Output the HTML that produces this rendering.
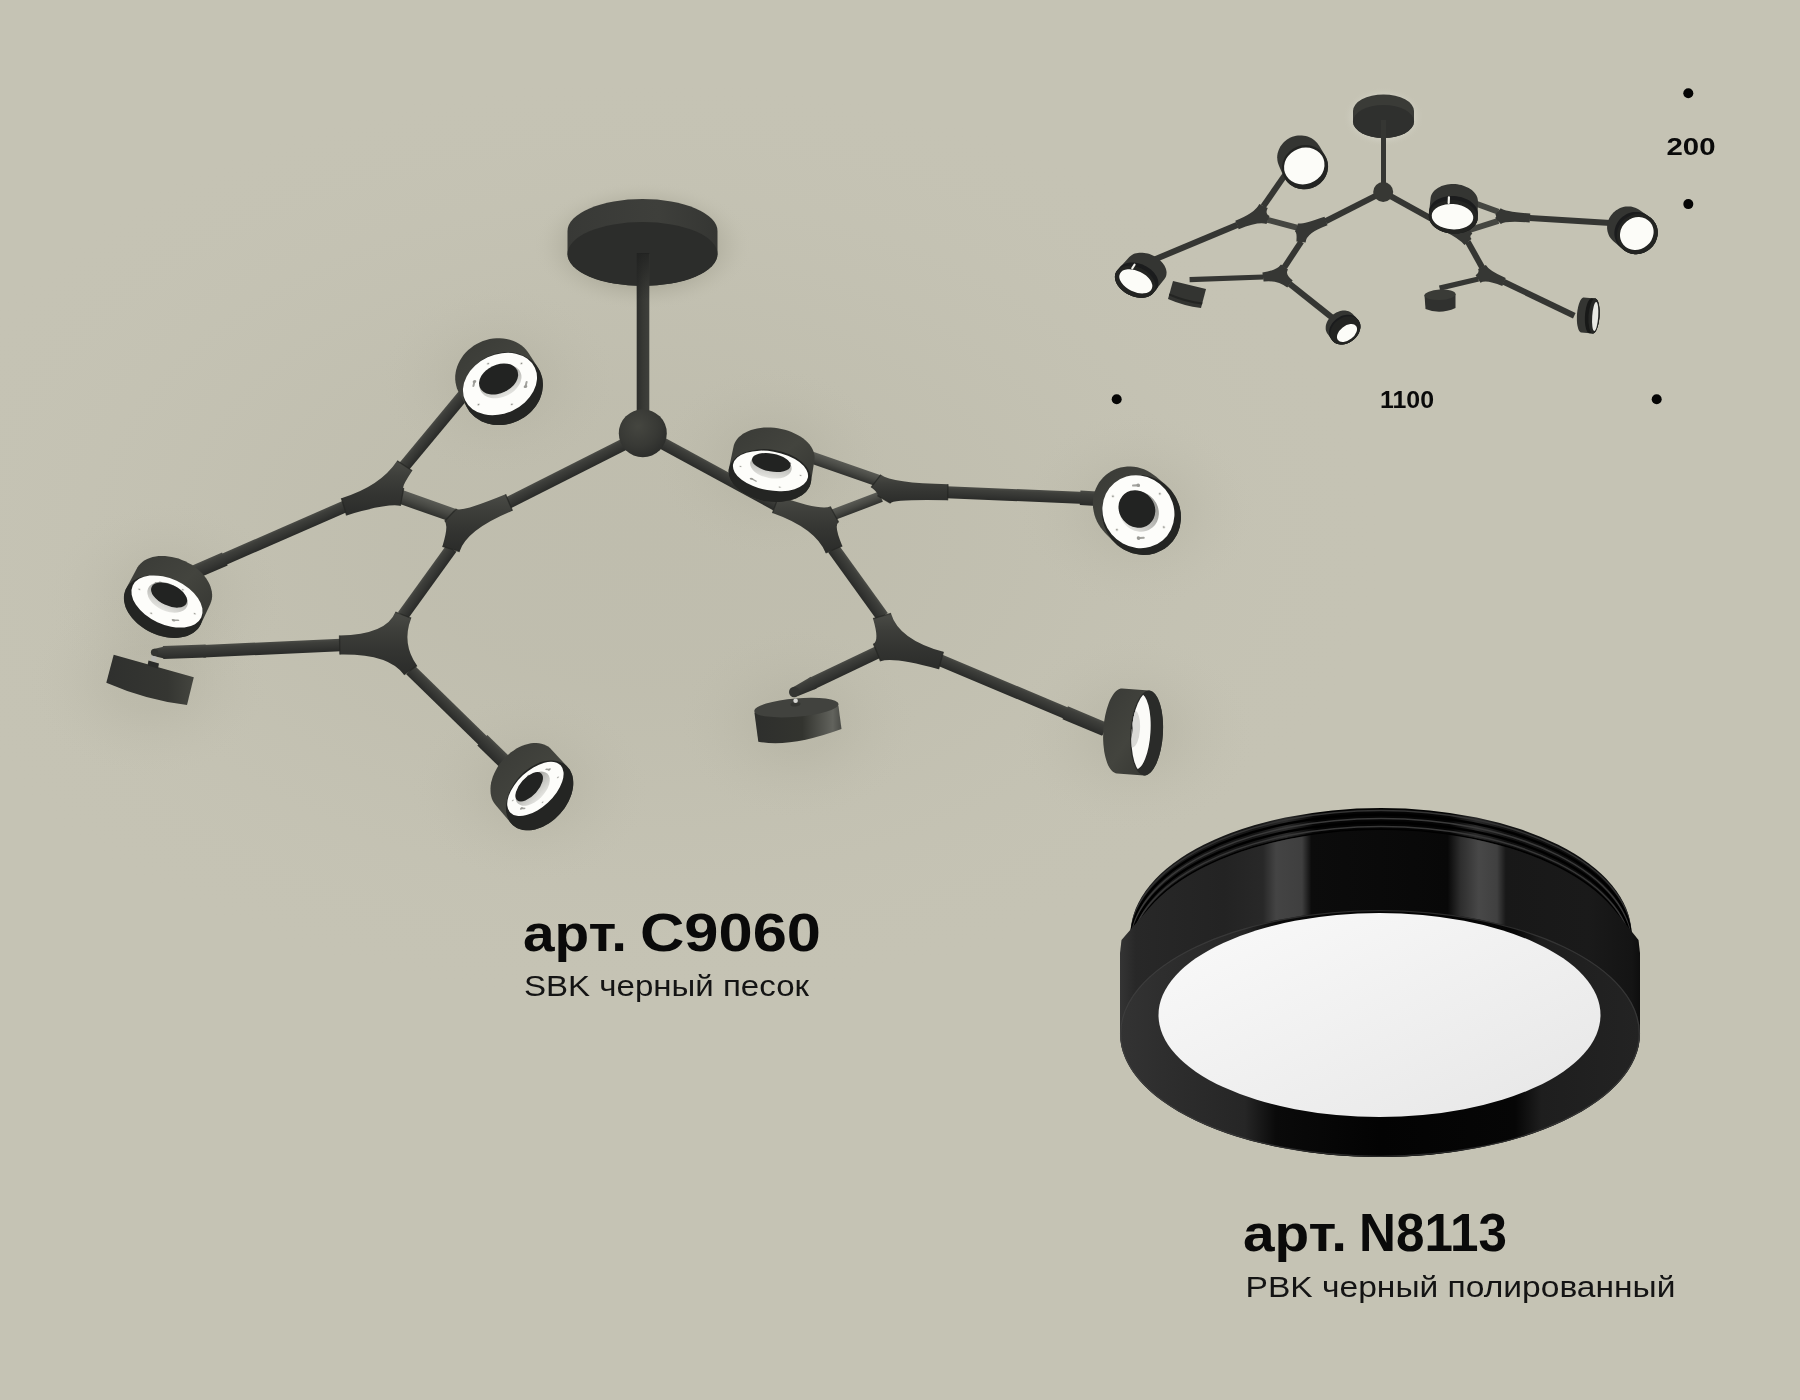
<!DOCTYPE html>
<html lang="ru"><head><meta charset="utf-8"><title>C9060 / N8113</title>
<style>html,body{margin:0;padding:0;background:#c5c3b4;}body{width:1800px;height:1400px;overflow:hidden;font-family:"Liberation Sans",sans-serif;}svg{display:block;will-change:transform}</style>
</head><body><svg width="1800" height="1400" viewBox="0 0 1800 1400"><defs>
<linearGradient id="gArm" x1="0" y1="0" x2="0" y2="1"><stop offset="0" stop-color="#4b4c47"/><stop offset=".22" stop-color="#3e3f3b"/><stop offset=".55" stop-color="#363734"/><stop offset="1" stop-color="#2a2b29"/></linearGradient>
<linearGradient id="gArmL" x1="0" y1="0" x2="0" y2="1"><stop offset="0" stop-color="#5a5b55"/><stop offset=".5" stop-color="#484944"/><stop offset="1" stop-color="#30312e"/></linearGradient>
<linearGradient id="gJ" x1="0" y1="0" x2="0" y2="1"><stop offset="0" stop-color="#4a4b46"/><stop offset=".3" stop-color="#3d3e3a"/><stop offset=".6" stop-color="#343532"/><stop offset="1" stop-color="#2b2c2a"/></linearGradient>
<linearGradient id="gSide" x1="0" y1="0" x2="1" y2="1"><stop offset="0" stop-color="#393a36"/><stop offset=".5" stop-color="#43443e"/><stop offset="1" stop-color="#32332f"/></linearGradient>
<linearGradient id="gRec" x1="0" y1="0" x2="0" y2="1"><stop offset="0" stop-color="#9a9a96"/><stop offset="1" stop-color="#e4e4e0"/></linearGradient>
<radialGradient id="gBall" cx=".4" cy=".35" r=".7"><stop offset="0" stop-color="#454640"/><stop offset=".6" stop-color="#383935"/><stop offset="1" stop-color="#2b2c2a"/></radialGradient>
<linearGradient id="gStem" x1="0" y1="0" x2="1" y2="0"><stop offset="0" stop-color="#2c2d2b"/><stop offset=".5" stop-color="#383935"/><stop offset="1" stop-color="#3f403c"/></linearGradient>
<linearGradient id="gCanSide" x1="0" y1="0" x2="1" y2="0"><stop offset="0" stop-color="#383936"/><stop offset=".6" stop-color="#3e3f3b"/><stop offset="1" stop-color="#353633"/></linearGradient>
<linearGradient id="gCyl" x1="0" y1="0" x2="1" y2="0"><stop offset="0" stop-color="#2e2f2d"/><stop offset=".55" stop-color="#33342f"/><stop offset=".9" stop-color="#62635d"/><stop offset="1" stop-color="#4a4b46"/></linearGradient>
<linearGradient id="gCyl3" x1="0" y1="0" x2="1" y2="0"><stop offset="0" stop-color="#2f302e"/><stop offset=".7" stop-color="#353632"/><stop offset="1" stop-color="#44453f"/></linearGradient>
<radialGradient id="gAmb" cx=".5" cy=".5" r=".5"><stop offset="0" stop-color="#b9b7a7" stop-opacity=".5"/><stop offset=".3" stop-color="#b9b7a7" stop-opacity=".44"/><stop offset=".5" stop-color="#bab8a8" stop-opacity=".3"/><stop offset=".7" stop-color="#bcbaaa" stop-opacity=".14"/><stop offset=".85" stop-color="#c0beae" stop-opacity=".05"/><stop offset="1" stop-color="#c5c3b4" stop-opacity="0"/></radialGradient><radialGradient id="gHalo" cx=".5" cy=".5" r=".5"><stop offset="0" stop-color="#a8a696" stop-opacity=".32"/><stop offset=".3" stop-color="#a8a696" stop-opacity=".26"/><stop offset=".55" stop-color="#acaa9a" stop-opacity=".13"/><stop offset=".8" stop-color="#b4b2a2" stop-opacity=".04"/><stop offset="1" stop-color="#c5c3b4" stop-opacity="0"/></radialGradient><radialGradient id="gCanSh" cx=".5" cy=".5" r=".5"><stop offset="0" stop-color="#a9a797" stop-opacity=".9"/><stop offset=".62" stop-color="#aba999" stop-opacity=".75"/><stop offset=".8" stop-color="#b4b2a2" stop-opacity=".35"/><stop offset=".92" stop-color="#bdbbab" stop-opacity=".1"/><stop offset="1" stop-color="#c5c3b4" stop-opacity="0"/></radialGradient><linearGradient id="gStemSh" x1="0" y1="0" x2="0" y2="1"><stop offset="0" stop-color="#1f201f" stop-opacity=".8"/><stop offset="1" stop-color="#1f201f" stop-opacity="0"/></linearGradient><radialGradient id="gGlow" cx=".5" cy=".5" r=".5"><stop offset="0" stop-color="#d2d1c4" stop-opacity=".9"/><stop offset=".75" stop-color="#d0cfc2" stop-opacity=".7"/><stop offset="1" stop-color="#c5c3b4" stop-opacity="0"/></radialGradient>
<linearGradient id="gBand" gradientUnits="userSpaceOnUse" x1="1120" y1="0" x2="1640" y2="0">
<stop offset="0" stop-color="#343434"/><stop offset=".03" stop-color="#282828"/><stop offset=".2" stop-color="#232323"/><stop offset=".275" stop-color="#282828"/>
<stop offset=".3" stop-color="#444"/><stop offset=".35" stop-color="#3f3f3f"/><stop offset=".368" stop-color="#0c0c0c"/>
<stop offset=".63" stop-color="#080808"/><stop offset=".655" stop-color="#2e2e2e"/><stop offset=".69" stop-color="#484848"/><stop offset=".725" stop-color="#404040"/><stop offset=".742" stop-color="#181818"/>
<stop offset=".9" stop-color="#1a1a1a"/><stop offset=".985" stop-color="#141414"/><stop offset="1" stop-color="#0e0e0e"/></linearGradient>
<linearGradient id="gRimN" gradientUnits="userSpaceOnUse" x1="1120" y1="0" x2="1640" y2="0">
<stop offset="0" stop-color="#333"/><stop offset=".1" stop-color="#2d2d2d"/><stop offset=".24" stop-color="#262626"/><stop offset=".3" stop-color="#0a0a0a"/><stop offset=".5" stop-color="#030303"/><stop offset=".76" stop-color="#060606"/><stop offset=".81" stop-color="#1e1e1e"/><stop offset="1" stop-color="#232323"/></linearGradient>
<linearGradient id="gThr" gradientUnits="userSpaceOnUse" x1="1131" y1="0" x2="1631" y2="0">
<stop offset="0" stop-color="#1c1c1c"/><stop offset=".25" stop-color="#161616"/><stop offset=".31" stop-color="#2a2a2a"/><stop offset=".37" stop-color="#050505"/><stop offset=".64" stop-color="#050505"/><stop offset=".69" stop-color="#2a2a2a"/><stop offset=".75" stop-color="#121212"/><stop offset="1" stop-color="#0b0b0b"/></linearGradient>
<linearGradient id="gDiff" x1="0" y1="0" x2="1" y2="1"><stop offset="0" stop-color="#fafafa"/><stop offset="1" stop-color="#e6e6e6"/></linearGradient>
</defs><rect width="1800" height="1400" fill="#c5c3b4"/>
<ellipse cx="640" cy="540" rx="760" ry="470" fill="url(#gAmb)"/>
<ellipse cx="499" cy="381" rx="125" ry="102" fill="url(#gHalo)"/>
<ellipse cx="168" cy="597" rx="125" ry="102" fill="url(#gHalo)"/>
<ellipse cx="150" cy="680" rx="125" ry="102" fill="url(#gHalo)"/>
<ellipse cx="531" cy="787" rx="125" ry="102" fill="url(#gHalo)"/>
<ellipse cx="771" cy="462" rx="125" ry="102" fill="url(#gHalo)"/>
<ellipse cx="1137" cy="510" rx="125" ry="102" fill="url(#gHalo)"/>
<ellipse cx="797" cy="722" rx="125" ry="102" fill="url(#gHalo)"/>
<ellipse cx="1133" cy="732" rx="125" ry="102" fill="url(#gHalo)"/>
<ellipse cx="642.5" cy="246" rx="112" ry="66" fill="url(#gCanSh)"/>
<path d="M567.5 231 A75 32 0 0 1 717.5 231 L717.5 254 A75 32 0 0 1 567.5 254Z" fill="url(#gCanSide)"/>
<ellipse cx="642.5" cy="254" rx="75" ry="32" fill="#2c2d2b"/>
<rect x="636.7" y="254" width="12.6" height="170" fill="url(#gStem)"/>
<rect x="636.7" y="253" width="12.6" height="48" fill="url(#gStemSh)"/>
<g transform="translate(508.2 502.9) rotate(-26.8)"><rect x="0" y="-6" width="148.6" height="12" fill="url(#gArm)"/></g>
<g transform="translate(400.2 496.7) rotate(19.4)"><rect x="0" y="-7" width="55.9" height="14" fill="url(#gArmL)"/></g>
<g transform="translate(404.1 466.5) rotate(-50.3)"><rect x="0" y="-6" width="97.7" height="12" fill="url(#gArm)"/></g>
<g transform="translate(192.2 573.2) rotate(-23.6)"><rect x="0" y="-6" width="166.6" height="12" fill="url(#gArm)"/></g>
<g transform="translate(192.2 573.2) rotate(-23.5)"><rect x="0" y="-7" width="35.6" height="14" fill="url(#gArm)"/></g>
<g transform="translate(402.8 615.8) rotate(-54.2)"><rect x="0" y="-6" width="83.3" height="12" fill="url(#gArm)"/></g>
<g transform="translate(203.1 651.2) rotate(-2.6)"><rect x="0" y="-6.2" width="137.6" height="12.5" fill="url(#gArm)"/></g>
<g transform="translate(163.1 652.6) rotate(-2)"><rect x="0" y="-6.5" width="42.8" height="13" fill="url(#gArm)"/></g>
<g transform="translate(153.6 652.4) rotate(1.1)"><path d="M0 -3.5 L10.8 -6 L10.8 6 L0 3.5Z" fill="url(#gArm)"/></g>
<circle cx="154.5" cy="652.4" r="3.6" fill="#343532"/>
<g transform="translate(410.4 669.9) rotate(44.3)"><rect x="0" y="-6" width="136.7" height="12" fill="url(#gArm)"/></g>
<g transform="translate(482.4 740.2) rotate(44.3)"><rect x="0" y="-7.2" width="36" height="14.5" fill="url(#gArm)"/></g>
<g transform="translate(641.7 432.1) rotate(28.5)"><rect x="0" y="-6" width="153.1" height="12" fill="url(#gArm)"/></g>
<g transform="translate(833.6 514.7) rotate(-20.9)"><rect x="0" y="-5.5" width="50.6" height="11" fill="url(#gArmL)"/></g>
<g transform="translate(809.1 456.7) rotate(19.1)"><rect x="0" y="-6" width="73.7" height="12" fill="url(#gArmL)"/></g>
<g transform="translate(946.9 492.2) rotate(2.4)"><rect x="0" y="-6" width="150.1" height="12" fill="url(#gArm)"/></g>
<g transform="translate(1080.1 497.8) rotate(2.7)"><rect x="0" y="-7.2" width="16.8" height="14.5" fill="url(#gArm)"/></g>
<g transform="translate(833.5 548.8) rotate(54.2)"><rect x="0" y="-6.5" width="83.8" height="13" fill="url(#gArm)"/></g>
<g transform="translate(811.2 683.8) rotate(-25.4)"><rect x="0" y="-6.2" width="73.8" height="12.4" fill="url(#gArm)"/></g>
<g transform="translate(795.2 691.7) rotate(-26)"><path d="M0 -5 L20.7 -6.5 L20.7 6.5 L0 5Z" fill="url(#gArm)"/></g>
<circle cx="794.2" cy="692" r="5.2" fill="#343532"/>
<g transform="translate(940.2 660.2) rotate(22.8)"><rect x="0" y="-6" width="178.6" height="12" fill="url(#gArm)"/></g>
<g transform="translate(1065.2 712.7) rotate(22.8)"><rect x="0" y="-7" width="43" height="14" fill="url(#gArm)"/></g>
<path d="M444.7 521.2 L456.3 508.8 Q460.4 512.7 505.6 494.2 L512.4 510.8 Q466.4 529.7 459.6 551.6 L442.4 546.4 Q448.9 525.2 444.7 521.2 Z" fill="url(#gJ)"/>
<path d="M444.7 521.2 L456.3 508.8" stroke="#242523" stroke-width="1.3" opacity=".75" fill="none"/>
<path d="M505.6 494.2 L512.4 510.8" stroke="#242523" stroke-width="1.3" opacity=".75" fill="none"/>
<path d="M459.6 551.6 L442.4 546.4" stroke="#242523" stroke-width="1.3" opacity=".75" fill="none"/>
<path d="M397.2 460.8 L412.2 470.8 Q401 487.7 403.7 488.2 L400.3 505.8 Q386.5 503.3 346.6 515.4 L341.4 498.2 Q380.3 486.3 397.2 460.8 Z" fill="url(#gJ)"/>
<path d="M397.2 460.8 L412.2 470.8" stroke="#242523" stroke-width="1.3" opacity=".75" fill="none"/>
<path d="M403.7 488.2 L400.3 505.8" stroke="#242523" stroke-width="1.3" opacity=".75" fill="none"/>
<path d="M346.6 515.4 L341.4 498.2" stroke="#242523" stroke-width="1.3" opacity=".75" fill="none"/>
<path d="M395.4 612 L411.2 618.2 Q401.4 643.4 417 665.6 L404 674.8 Q389 653.6 339.9 654.5 L339.5 635.5 Q386.5 634.6 395.4 612 Z" fill="url(#gJ)"/>
<path d="M395.4 612 L411.2 618.2" stroke="#242523" stroke-width="1.3" opacity=".75" fill="none"/>
<path d="M417 665.6 L404 674.8" stroke="#242523" stroke-width="1.3" opacity=".75" fill="none"/>
<path d="M339.9 654.5 L339.5 635.5" stroke="#242523" stroke-width="1.3" opacity=".75" fill="none"/>
<path d="M772.5 513.1 L778.5 496.1 Q821.3 511.2 830.2 506.5 L838.6 522.3 Q833.5 525.1 842.3 546 L825.7 553 Q815.3 528.2 772.5 513.1 Z" fill="url(#gJ)"/>
<path d="M772.5 513.1 L778.5 496.1" stroke="#242523" stroke-width="1.3" opacity=".75" fill="none"/>
<path d="M830.2 506.5 L838.6 522.3" stroke="#242523" stroke-width="1.3" opacity=".75" fill="none"/>
<path d="M842.3 546 L825.7 553" stroke="#242523" stroke-width="1.3" opacity=".75" fill="none"/>
<path d="M871.1 487.3 L880.9 474.7 Q891.8 483.1 948 484.2 L947.6 500.2 Q892.9 499.1 890.5 503.3 L877.5 495.7 Q878.9 493.3 871.1 487.3 Z" fill="url(#gJ)"/>
<path d="M871.1 487.3 L880.9 474.7" stroke="#242523" stroke-width="1.3" opacity=".75" fill="none"/>
<path d="M948 484.2 L947.6 500.2" stroke="#242523" stroke-width="1.3" opacity=".75" fill="none"/>
<path d="M890.5 503.3 L877.5 495.7" stroke="#242523" stroke-width="1.3" opacity=".75" fill="none"/>
<path d="M873 618.6 L891 613.4 Q898.7 639.5 943.4 651.8 L938.6 669.2 Q892.4 656.4 880.6 661.3 L873.4 643.7 Q879.6 641.1 873 618.6 Z" fill="url(#gJ)"/>
<path d="M873 618.6 L891 613.4" stroke="#242523" stroke-width="1.3" opacity=".75" fill="none"/>
<path d="M943.4 651.8 L938.6 669.2" stroke="#242523" stroke-width="1.3" opacity=".75" fill="none"/>
<path d="M880.6 661.3 L873.4 643.7" stroke="#242523" stroke-width="1.3" opacity=".75" fill="none"/>
<circle cx="642.8" cy="433.3" r="24" fill="url(#gBall)"/>
<path d="M455.2 379.2 L455.2 376.1 L455.6 373 L456.2 369.8 L457.1 366.7 L458.3 363.7 L459.8 360.7 L461.5 357.9 L463.5 355.1 L465.7 352.6 L468.2 350.1 L470.8 347.9 L473.6 345.8 L476.6 344 L479.7 342.4 L482.9 341.1 L486.3 339.9 L489.6 339.1 L493.1 338.5 L496.5 338.2 L499.9 338.2 L503.3 338.4 L506.6 338.9 L509.8 339.7 L512.9 340.7 L515.9 342 L518.6 343.6 L521.3 345.3 L523.7 347.3 L525.9 349.5 L527.8 351.9 L529.5 354.4 L538.5 368.6 L540 371.4 L541.1 374.2 L542 377.2 L542.6 380.3 L542.9 383.4 L542.9 386.6 L542.5 389.8 L541.9 392.9 L541 396.1 L539.8 399.2 L538.3 402.2 L536.5 405.1 L534.5 407.8 L532.2 410.5 L529.8 412.9 L527.1 415.2 L524.2 417.3 L521.2 419.1 L518 420.8 L514.7 422.1 L511.4 423.3 L507.9 424.1 L504.4 424.7 L501 425.1 L497.5 425.1 L494.1 424.9 L490.7 424.3 L487.5 423.5 L484.3 422.5 L481.3 421.2 L478.5 419.6 L475.8 417.8 L473.4 415.8 L471.2 413.6 L469.2 411.2 L467.5 408.6 L459.5 393.8 L458.1 391.1 L456.9 388.3 L456.1 385.3 L455.5 382.3Z" fill="url(#gSide)"/>
<ellipse cx="503" cy="388.6" rx="40.8" ry="35.5" transform="rotate(-25 503 388.6)" fill="#242523" />
<ellipse cx="500" cy="384" rx="38.5" ry="29.4" transform="rotate(-25 500 384)" fill="#fdfdfa" />
<g transform="translate(500 384) rotate(-25) scale(38.5 29.4)"><g transform="translate(0.617 0.371) rotate(121)"><rect x="-.09" y="-.028" width=".16" height=".056" rx=".028" fill="#a3a39e"/><circle cx=".085" cy="0" r=".05" fill="#9a9a95"/></g><g transform="translate(-0.617 -0.371) rotate(301)"><rect x="-.09" y="-.028" width=".16" height=".056" rx=".028" fill="#a3a39e"/><circle cx=".085" cy="0" r=".05" fill="#9a9a95"/></g><circle cx="0.056" cy="0.798" r=".045" fill="#e6e6e1"/><circle cx="0.056" cy="0.798" r=".02" fill="#8b8b86"/><circle cx="-0.731" cy="0.325" r=".045" fill="#e6e6e1"/><circle cx="-0.731" cy="0.325" r=".02" fill="#8b8b86"/><circle cx="-0.056" cy="-0.798" r=".045" fill="#e6e6e1"/><circle cx="-0.056" cy="-0.798" r=".02" fill="#8b8b86"/><circle cx="0.731" cy="-0.325" r=".045" fill="#e6e6e1"/><circle cx="0.731" cy="-0.325" r=".02" fill="#8b8b86"/></g>
<ellipse cx="500.5" cy="381.5" rx="22" ry="15.5" transform="rotate(-25 500.5 381.5)" fill="url(#gRec)" />
<ellipse cx="498.6" cy="379" rx="20.5" ry="14.2" transform="rotate(-25 498.6 379)" fill="#222322" />
<path d="M123.9 599.1 L123.9 596.5 L124.3 594 L124.9 591.5 L125.8 589.2 L136.3 569.5 L137.5 567.3 L139 565.3 L140.7 563.5 L142.6 561.8 L144.8 560.3 L147.2 559 L149.8 558 L152.6 557.1 L155.6 556.5 L158.6 556.1 L161.8 556 L165.1 556 L168.4 556.4 L171.8 556.9 L175.2 557.7 L178.6 558.6 L181.9 559.9 L185.2 561.3 L188.3 562.9 L191.4 564.6 L194.3 566.6 L197.1 568.7 L199.7 570.9 L202.1 573.3 L204.2 575.7 L206.1 578.3 L207.8 580.9 L209.2 583.5 L210.4 586.2 L211.2 588.9 L211.8 591.6 L212.1 594.2 L212.1 596.8 L211.8 599.2 L211.2 601.6 L210.3 603.9 L200.8 624.2 L199.6 626.4 L198.2 628.4 L196.4 630.3 L194.4 632 L192.2 633.5 L189.8 634.8 L187.1 635.9 L184.3 636.7 L181.3 637.3 L178.2 637.7 L174.9 637.9 L171.6 637.8 L168.2 637.5 L164.8 637 L161.4 636.2 L157.9 635.2 L154.6 634 L151.3 632.5 L148 630.9 L144.9 629.1 L141.9 627.1 L139.2 625 L136.5 622.7 L134.1 620.3 L131.9 617.8 L130 615.2 L128.2 612.6 L126.8 609.9 L125.7 607.2 L124.8 604.5 L124.2 601.8Z" fill="url(#gSide)"/>
<ellipse cx="163.3" cy="606.7" rx="41.4" ry="28.5" transform="rotate(25 163.3 606.7)" fill="#242523" />
<ellipse cx="167" cy="601.5" rx="37.8" ry="22.8" transform="rotate(25 167 601.5)" fill="#fdfdfa" />
<g transform="translate(167 601.5) rotate(25) scale(37.8 22.8)"><g transform="translate(0.433 0.575) rotate(143)"><rect x="-.09" y="-.028" width=".16" height=".056" rx=".028" fill="#a3a39e"/><circle cx=".085" cy="0" r=".05" fill="#9a9a95"/></g><g transform="translate(-0.433 -0.575) rotate(323)"><rect x="-.09" y="-.028" width=".16" height=".056" rx=".028" fill="#a3a39e"/><circle cx=".085" cy="0" r=".05" fill="#9a9a95"/></g><circle cx="-0.247" cy="0.761" r=".045" fill="#e6e6e1"/><circle cx="-0.247" cy="0.761" r=".02" fill="#8b8b86"/><circle cx="-0.800" cy="0.028" r=".045" fill="#e6e6e1"/><circle cx="-0.800" cy="0.028" r=".02" fill="#8b8b86"/><circle cx="0.247" cy="-0.761" r=".045" fill="#e6e6e1"/><circle cx="0.247" cy="-0.761" r=".02" fill="#8b8b86"/><circle cx="0.800" cy="-0.028" r=".045" fill="#e6e6e1"/><circle cx="0.800" cy="-0.028" r=".02" fill="#8b8b86"/></g>
<ellipse cx="167.6" cy="597.4" rx="21.5" ry="13.5" transform="rotate(25 167.6 597.4)" fill="url(#gRec)" />
<ellipse cx="169.1" cy="595.1" rx="19.3" ry="10.5" transform="rotate(25 169.1 595.1)" fill="#222322" />
<path d="M490.5 788.2 L490.7 785.3 L491.2 782.3 L492 779.4 L493 776.3 L494.2 773.4 L495.7 770.4 L497.3 767.5 L499.2 764.6 L501.2 761.9 L503.5 759.3 L505.8 756.8 L508.4 754.5 L511 752.3 L513.7 750.4 L516.5 748.6 L519.4 747.1 L522.2 745.8 L525.1 744.7 L528 743.9 L530.9 743.3 L533.6 743 L536.4 743 L539 743.2 L541.5 743.7 L543.9 744.4 L546.1 745.4 L548.1 746.6 L550 748.1 L551.6 749.8 L568 767.4 L569.5 769.3 L570.7 771.5 L571.7 773.8 L572.5 776.2 L573 778.9 L573.2 781.6 L573.2 784.5 L573 787.4 L572.5 790.4 L571.7 793.4 L570.7 796.5 L569.4 799.5 L568 802.5 L566.3 805.5 L564.4 808.4 L562.3 811.1 L560 813.8 L557.6 816.3 L555.1 818.7 L552.4 820.9 L549.6 822.9 L546.8 824.6 L543.9 826.2 L541 827.5 L538 828.6 L535.1 829.4 L532.2 830 L529.4 830.3 L526.6 830.3 L524 830.1 L521.4 829.6 L519 828.9 L516.8 827.9 L514.7 826.6 L512.8 825.1 L511.2 823.4 L495.6 805 L494.1 803.1 L492.9 801 L491.9 798.7 L491.2 796.3 L490.7 793.7 L490.5 791Z" fill="url(#gSide)"/>
<ellipse cx="539.6" cy="795.4" rx="40" ry="27.5" transform="rotate(-48 539.6 795.4)" fill="#242523" />
<ellipse cx="535.4" cy="788.9" rx="34.5" ry="18.5" transform="rotate(-43 535.4 788.9)" fill="#fdfdfa" />
<g transform="translate(535.4 788.9) rotate(-43) scale(34.5 18.5)"><g transform="translate(0.642 -0.327) rotate(63)"><rect x="-.09" y="-.028" width=".16" height=".056" rx=".028" fill="#a3a39e"/><circle cx=".085" cy="0" r=".05" fill="#9a9a95"/></g><g transform="translate(-0.642 0.327) rotate(243)"><rect x="-.09" y="-.028" width=".16" height=".056" rx=".028" fill="#a3a39e"/><circle cx=".085" cy="0" r=".05" fill="#9a9a95"/></g><circle cx="0.706" cy="0.376" r=".045" fill="#e6e6e1"/><circle cx="0.706" cy="0.376" r=".02" fill="#8b8b86"/><circle cx="-0.111" cy="0.792" r=".045" fill="#e6e6e1"/><circle cx="-0.111" cy="0.792" r=".02" fill="#8b8b86"/><circle cx="-0.706" cy="-0.376" r=".045" fill="#e6e6e1"/><circle cx="-0.706" cy="-0.376" r=".02" fill="#8b8b86"/><circle cx="0.111" cy="-0.792" r=".045" fill="#e6e6e1"/><circle cx="0.111" cy="-0.792" r=".02" fill="#8b8b86"/></g>
<ellipse cx="532.7" cy="788.7" rx="21" ry="12" transform="rotate(-45 532.7 788.7)" fill="url(#gRec)" />
<ellipse cx="529.2" cy="786.8" rx="18" ry="9" transform="rotate(-48 529.2 786.8)" fill="#222322" />
<path d="M728.6 471.4 L728.8 469.1 L733.4 447.2 L733.9 445 L734.7 442.9 L735.8 440.9 L737.2 438.9 L738.9 437.1 L740.9 435.4 L743 433.8 L745.5 432.4 L748.1 431.2 L751 430.1 L754 429.2 L757.1 428.5 L760.4 428 L763.8 427.6 L767.3 427.5 L770.8 427.6 L774.4 427.8 L777.9 428.3 L781.4 429 L784.9 429.8 L788.2 430.8 L791.5 432 L794.6 433.4 L797.6 434.9 L800.4 436.6 L803 438.3 L805.4 440.2 L807.5 442.2 L809.4 444.3 L811 446.5 L812.3 448.7 L813.3 451 L814 453.2 L814.5 455.5 L814.6 457.8 L814.4 460 L811 482.1 L810.5 484.3 L809.7 486.5 L808.5 488.5 L807.1 490.5 L805.4 492.4 L803.5 494.1 L801.2 495.7 L798.8 497.1 L796.1 498.4 L793.2 499.4 L790.1 500.4 L786.9 501.1 L783.6 501.6 L780.1 502 L776.6 502.1 L773 502 L769.4 501.8 L765.8 501.3 L762.3 500.6 L758.8 499.8 L755.3 498.7 L752 497.5 L748.9 496.1 L745.8 494.6 L743 492.9 L740.4 491.1 L738 489.2 L735.8 487.1 L733.9 485 L732.3 482.8 L730.9 480.6 L729.9 478.3 L729.2 476 L728.7 473.6Z" fill="url(#gSide)"/>
<ellipse cx="769.9" cy="475.6" rx="41.6" ry="26" transform="rotate(9 769.9 475.6)" fill="#242523" />
<ellipse cx="770.5" cy="470.9" rx="38" ry="19.5" transform="rotate(10 770.5 470.9)" fill="#fdfdfa" />
<g transform="translate(770.5 470.9) rotate(10) scale(38 19.5)"><g transform="translate(0.382 -0.611) rotate(32)"><rect x="-.09" y="-.028" width=".16" height=".056" rx=".028" fill="#a3a39e"/><circle cx=".085" cy="0" r=".05" fill="#9a9a95"/></g><g transform="translate(-0.382 0.611) rotate(212)"><rect x="-.09" y="-.028" width=".16" height=".056" rx=".028" fill="#a3a39e"/><circle cx=".085" cy="0" r=".05" fill="#9a9a95"/></g><circle cx="0.799" cy="-0.042" r=".045" fill="#e6e6e1"/><circle cx="0.799" cy="-0.042" r=".02" fill="#8b8b86"/><circle cx="0.313" cy="0.736" r=".045" fill="#e6e6e1"/><circle cx="0.313" cy="0.736" r=".02" fill="#8b8b86"/><circle cx="-0.799" cy="0.042" r=".045" fill="#e6e6e1"/><circle cx="-0.799" cy="0.042" r=".02" fill="#8b8b86"/><circle cx="-0.313" cy="-0.736" r=".045" fill="#e6e6e1"/><circle cx="-0.313" cy="-0.736" r=".02" fill="#8b8b86"/></g>
<ellipse cx="770.9" cy="466.2" rx="21" ry="12" transform="rotate(10 770.9 466.2)" fill="url(#gRec)" />
<ellipse cx="771.3" cy="462.5" rx="19.5" ry="9" transform="rotate(10 771.3 462.5)" fill="#222322" />
<path d="M1092.9 504.7 L1092.9 501.3 L1093.2 497.9 L1093.9 494.5 L1094.8 491.3 L1096 488.2 L1097.5 485.2 L1099.2 482.3 L1101.2 479.7 L1103.4 477.2 L1105.8 475 L1108.5 473 L1111.3 471.2 L1114.2 469.7 L1117.3 468.5 L1120.5 467.6 L1123.8 466.9 L1127.2 466.6 L1130.6 466.5 L1134 466.8 L1137.4 467.3 L1140.7 468.2 L1144 469.3 L1147.2 470.7 L1150.2 472.4 L1153.1 474.4 L1155.9 476.5 L1165.9 485.1 L1168.5 487.5 L1170.9 490.1 L1173.1 493 L1175 496 L1176.7 499.1 L1178.1 502.4 L1179.3 505.7 L1180.1 509.2 L1180.7 512.6 L1180.9 516.1 L1180.9 519.6 L1180.5 523 L1179.9 526.4 L1179 529.7 L1177.8 532.9 L1176.2 536 L1174.5 538.8 L1172.5 541.5 L1170.2 544 L1167.8 546.3 L1165.1 548.4 L1162.2 550.1 L1159.2 551.6 L1156.1 552.9 L1152.8 553.8 L1149.5 554.5 L1146.1 554.8 L1142.6 554.9 L1139.2 554.6 L1135.8 554 L1132.4 553.2 L1129 552 L1125.8 550.6 L1122.7 548.9 L1119.7 546.9 L1116.9 544.7 L1114.3 542.3 L1105.1 532.9 L1102.8 530.3 L1100.6 527.5 L1098.7 524.5 L1097 521.4 L1095.6 518.2 L1094.5 514.9 L1093.7 511.5 L1093.1 508.1Z" fill="url(#gSide)"/>
<ellipse cx="1141.4" cy="514.9" rx="41" ry="38.5" transform="rotate(50 1141.4 514.9)" fill="#242523" />
<ellipse cx="1138.4" cy="511.7" rx="37.5" ry="35" transform="rotate(50 1138.4 511.7)" fill="#fdfdfa" />
<g transform="translate(1138.4 511.7) rotate(50) scale(37.5 35)"><g transform="translate(0.590 0.413) rotate(125)"><rect x="-.09" y="-.028" width=".16" height=".056" rx=".028" fill="#a3a39e"/><circle cx=".085" cy="0" r=".05" fill="#9a9a95"/></g><g transform="translate(-0.590 -0.413) rotate(305)"><rect x="-.09" y="-.028" width=".16" height=".056" rx=".028" fill="#a3a39e"/><circle cx=".085" cy="0" r=".05" fill="#9a9a95"/></g><circle cx="0.000" cy="0.800" r=".045" fill="#e6e6e1"/><circle cx="0.000" cy="0.800" r=".02" fill="#8b8b86"/><circle cx="-0.752" cy="0.274" r=".045" fill="#e6e6e1"/><circle cx="-0.752" cy="0.274" r=".02" fill="#8b8b86"/><circle cx="-0.000" cy="-0.800" r=".045" fill="#e6e6e1"/><circle cx="-0.000" cy="-0.800" r=".02" fill="#8b8b86"/><circle cx="0.752" cy="-0.274" r=".045" fill="#e6e6e1"/><circle cx="0.752" cy="-0.274" r=".02" fill="#8b8b86"/></g>
<ellipse cx="1139" cy="511.5" rx="21" ry="19" transform="rotate(50 1139 511.5)" fill="url(#gRec)" />
<ellipse cx="1136.9" cy="509" rx="19.5" ry="17.6" transform="rotate(50 1136.9 509)" fill="#222322" />
<path d="M1103.1 737.4 L1103.2 733.7 L1103.3 730 L1103.6 726.3 L1104 722.6 L1104.6 719.1 L1105.2 715.6 L1106 712.2 L1106.8 708.9 L1107.8 705.9 L1108.8 703 L1109.9 700.3 L1111.1 697.9 L1112.4 695.7 L1113.7 693.8 L1115.1 692.1 L1116.5 690.8 L1117.9 689.8 L1119.3 689 L1120.8 688.6 L1122.2 688.6 L1149.2 690.6 L1150.6 690.8 L1152 691.4 L1153.3 692.3 L1154.6 693.5 L1155.8 695 L1157 696.8 L1158.1 698.8 L1159 701.1 L1159.9 703.7 L1160.7 706.5 L1161.4 709.5 L1162 712.6 L1162.4 716 L1162.8 719.4 L1163 723 L1163.1 726.6 L1163 730.3 L1162.9 734 L1162.6 737.7 L1162.2 741.4 L1161.6 744.9 L1161 748.4 L1160.2 751.8 L1159.4 755.1 L1158.4 758.1 L1157.4 761 L1156.3 763.7 L1155.1 766.1 L1153.8 768.3 L1152.5 770.2 L1151.1 771.9 L1149.7 773.2 L1148.3 774.2 L1146.9 775 L1145.4 775.4 L1144 775.4 L1117 773.4 L1115.6 773.2 L1114.2 772.6 L1112.9 771.7 L1111.6 770.5 L1110.4 769 L1109.2 767.2 L1108.1 765.2 L1107.2 762.9 L1106.3 760.3 L1105.5 757.5 L1104.8 754.5 L1104.2 751.4 L1103.8 748 L1103.4 744.6 L1103.2 741Z" fill="url(#gSide)"/>
<ellipse cx="1146.6" cy="733" rx="16.3" ry="42.5" transform="rotate(3.5 1146.6 733)" fill="#2a2b29" />
<clipPath id="cl8"><ellipse cx="1146.6" cy="733" rx="15" ry="41" transform="rotate(3.5 1146.6 733)" fill="#000" /></clipPath>
<g clip-path="url(#cl8)"><ellipse cx="1138" cy="731.5" rx="12.5" ry="38" transform="rotate(3.5 1138 731.5)" fill="#fbfbf8" /><ellipse cx="1133.5" cy="729" rx="6.5" ry="18.5" transform="rotate(3.5 1133.5 729)" fill="#d9d9d6" /><ellipse cx="1127.5" cy="730" rx="5" ry="15" transform="rotate(3.5 1127.5 730)" fill="#1f201f" /></g>
<path d="M113.7 654.8 L193.8 677.2 L187 705 Q146 700 106.3 682.7Z" fill="url(#gCyl3)"/>
<path d="M148.5 660.5 l10.5 3 l-1 5 l-10.5 -3z" fill="#2a2b29"/>
<path d="M152 655.5 l5 1.4 l-1.2 5 l-5 -1.4z" fill="#b9b9b4"/>
<path d="M754.4 712.6 L758.3 741.7 Q790 748 841.5 729.1 L838.4 705.6Z" fill="url(#gCyl)"/>
<ellipse cx="796.4" cy="707.6" rx="42.3" ry="9.2" transform="rotate(-4.8 796.4 707.6)" fill="#41423e" />
<ellipse cx="795.5" cy="704.3" rx="5" ry="2.2" transform="rotate(-5 795.5 704.3)" fill="#353632" />
<circle cx="795.6" cy="700.8" r="2.3" fill="#d8d8d4"/>
<ellipse cx="1383.5" cy="117" rx="41" ry="30" fill="url(#gGlow)"/>
<path d="M1353 111 A30.5 16.5 0 0 1 1414 111 L1414 121.5 A30.5 16.5 0 0 1 1353 121.5Z" fill="#3a3b37"/>
<ellipse cx="1383.5" cy="121.5" rx="30.5" ry="16.5" fill="#2f302e"/>
<rect x="1381" y="120" width="5" height="66" fill="#353633"/>
<g transform="translate(1325.6 221.2) rotate(-26.9)"><rect x="0" y="-3" width="64.9" height="6" fill="#353633"/></g>
<g transform="translate(1267.6 219.9) rotate(14.7)"><rect x="0" y="-2.9" width="30.3" height="5.8" fill="#454641"/></g>
<g transform="translate(1263.3 206.3) rotate(-55.3)"><rect x="0" y="-3" width="38.5" height="6" fill="#353633"/></g>
<g transform="translate(1154.6 259.5) rotate(-22.7)"><rect x="0" y="-3" width="89.7" height="6" fill="#353633"/></g>
<g transform="translate(1284.3 267.3) rotate(-56.6)"><rect x="0" y="-3" width="30.8" height="6" fill="#353633"/></g>
<g transform="translate(1189.6 279.6) rotate(-2)"><rect x="0" y="-2.6" width="73.8" height="5.2" fill="#353633"/></g>
<g transform="translate(1289.7 283.8) rotate(38.5)"><rect x="0" y="-3" width="57" height="6" fill="#353633"/></g>
<g transform="translate(1382.9 191.8) rotate(29.1)"><rect x="0" y="-3" width="73.8" height="6" fill="#353633"/></g>
<g transform="translate(1469.6 230.1) rotate(-17.8)"><rect x="0" y="-2.9" width="30.2" height="5.8" fill="#454641"/></g>
<g transform="translate(1475.6 203.4) rotate(20)"><rect x="0" y="-2.9" width="24.2" height="5.8" fill="#454641"/></g>
<g transform="translate(1529.6 218) rotate(3.6)"><rect x="0" y="-3" width="81" height="6" fill="#353633"/></g>
<g transform="translate(1467.8 241.7) rotate(60.8)"><rect x="0" y="-3" width="29.5" height="6" fill="#353633"/></g>
<g transform="translate(1439.6 288.1) rotate(-13.3)"><rect x="0" y="-2.6" width="39.9" height="5.2" fill="#353633"/></g>
<g transform="translate(1503.6 281.8) rotate(25.6)"><rect x="0" y="-3" width="78.4" height="6" fill="#353633"/></g>
<path d="M1295 231.6 L1298 223.4 Q1301.7 224.7 1324.5 216.7 L1327.5 225.3 Q1306.3 232.8 1305.6 242.4 L1296.4 241.6 Q1297.2 232.4 1295 231.6 Z" fill="#363734"/>
<path d="M1259.3 204 L1267.7 208 Q1264.7 214.1 1269.5 215.9 L1266.5 224.1 Q1258.8 221.3 1238.7 229.3 L1235.3 220.7 Q1255.1 212.9 1259.3 204 Z" fill="#363734"/>
<path d="M1281 264.4 L1288 269.6 Q1284.6 274.2 1292.7 280.5 L1287.3 287.5 Q1277.5 279.8 1263.6 281.6 L1262.4 272.4 Q1276.3 270.7 1281 264.4 Z" fill="#363734"/>
<path d="M1444.9 231.6 L1449.1 223.4 Q1462 229.8 1467.7 226.3 L1472.3 233.7 Q1468.8 235.9 1471.5 239 L1464.5 245 Q1459.1 238.7 1444.9 231.6 Z" fill="#363734"/>
<path d="M1495.3 214.8 L1500.7 208.2 Q1504.9 211.7 1530.3 213.6 L1529.7 222.4 Q1504.8 220.5 1500.8 224.1 L1495.2 217.9 Q1497.1 216.2 1495.3 214.8 Z" fill="#363734"/>
<path d="M1478.1 269 L1485.9 265 Q1488.7 270.6 1505.7 278 L1502.3 286 Q1485.9 279 1480.4 282.7 L1475.6 275.3 Q1479.8 272.5 1478.1 269 Z" fill="#363734"/>
<circle cx="1383.2" cy="192" r="10" fill="#373834"/>
<path d="M1277.2 157.3 L1277.3 155.4 L1277.6 153.5 L1278.1 151.7 L1278.7 149.9 L1279.5 148.2 L1280.4 146.5 L1281.5 144.9 L1282.7 143.4 L1284 142 L1285.5 140.7 L1287.1 139.5 L1288.7 138.5 L1290.5 137.6 L1292.3 136.8 L1294.2 136.2 L1296.1 135.8 L1298 135.5 L1300 135.4 L1301.9 135.5 L1303.8 135.7 L1305.8 136.1 L1307.6 136.6 L1309.4 137.3 L1311.1 138.1 L1312.7 139.1 L1314.3 140.2 L1315.7 141.4 L1317 142.8 L1318.1 144.3 L1319.2 145.8 L1325.2 155.8 L1326.1 157.5 L1326.8 159.3 L1327.4 161.1 L1327.8 163 L1328 164.9 L1328.1 166.8 L1327.9 168.8 L1327.6 170.7 L1327.2 172.6 L1326.5 174.4 L1325.7 176.2 L1324.8 177.9 L1323.7 179.6 L1322.4 181.1 L1321 182.6 L1319.5 183.9 L1317.9 185.1 L1316.2 186.2 L1314.4 187.1 L1312.5 187.9 L1310.6 188.5 L1308.6 188.9 L1306.6 189.2 L1304.6 189.3 L1302.6 189.3 L1300.6 189.1 L1298.7 188.7 L1296.8 188.1 L1294.9 187.4 L1293.1 186.6 L1291.5 185.6 L1289.9 184.4 L1288.4 183.1 L1287.1 181.7 L1285.9 180.2 L1284.8 178.6 L1283.9 176.9 L1279.2 166.3 L1278.5 164.6 L1277.9 162.8 L1277.5 161 L1277.3 159.1Z" fill="#343532"/>
<ellipse cx="1305" cy="167.2" rx="23.2" ry="22" transform="rotate(-20 1305 167.2)" fill="#232422" />
<ellipse cx="1304.3" cy="166" rx="20.5" ry="18.2" transform="rotate(-20 1304.3 166)" fill="#fcfcf8" />
<path d="M1114.9 277.5 L1114.9 276.1 L1115.1 274.9 L1115.4 273.6 L1115.9 272.4 L1116.5 271.3 L1117.3 270.3 L1129.3 257.1 L1130.2 256.2 L1131.2 255.4 L1132.3 254.7 L1133.5 254.1 L1134.8 253.6 L1136.3 253.2 L1137.8 252.9 L1139.3 252.7 L1141 252.7 L1142.6 252.7 L1144.3 252.9 L1146 253.2 L1147.8 253.6 L1149.5 254.1 L1151.2 254.8 L1152.9 255.5 L1154.5 256.3 L1156 257.3 L1157.5 258.3 L1158.9 259.3 L1160.2 260.5 L1161.5 261.7 L1162.6 262.9 L1163.5 264.2 L1164.4 265.6 L1165.1 266.9 L1165.7 268.3 L1166.1 269.6 L1166.4 271 L1166.6 272.3 L1166.5 273.6 L1166.4 274.8 L1166.1 276 L1165.6 277.2 L1165 278.2 L1164.3 279.2 L1153.3 293.1 L1152.4 294 L1151.4 294.9 L1150.2 295.6 L1149 296.3 L1147.6 296.8 L1146.2 297.2 L1144.6 297.5 L1143 297.7 L1141.3 297.7 L1139.6 297.7 L1137.8 297.5 L1136.1 297.2 L1134.3 296.7 L1132.5 296.2 L1130.8 295.5 L1129.1 294.8 L1127.4 293.9 L1125.8 293 L1124.2 291.9 L1122.8 290.8 L1121.4 289.6 L1120.2 288.4 L1119.1 287.1 L1118 285.8 L1117.2 284.4 L1116.4 283 L1115.8 281.6 L1115.4 280.2 L1115.1 278.8Z" fill="#343532"/>
<path d="M1114.9 277.5 L1114.9 276.1 L1115.1 274.9 L1115.4 273.6 L1115.9 272.4 L1116.5 271.3 L1117.3 270.3 L1120 267.1 L1120.9 266.1 L1122 265.3 L1123.1 264.5 L1124.4 263.9 L1125.7 263.4 L1127.2 263 L1128.8 262.7 L1130.4 262.5 L1132 262.4 L1133.8 262.5 L1135.5 262.7 L1137.3 263 L1139.1 263.4 L1140.8 264 L1142.6 264.6 L1144.3 265.4 L1146 266.2 L1147.6 267.2 L1149.1 268.2 L1150.6 269.3 L1151.9 270.5 L1153.2 271.8 L1154.3 273.1 L1155.3 274.4 L1156.2 275.8 L1156.9 277.1 L1157.5 278.5 L1158 279.9 L1158.3 281.3 L1158.4 282.7 L1158.4 284 L1158.2 285.3 L1157.9 286.5 L1157.5 287.7 L1156.8 288.8 L1156.1 289.9 L1153.3 293.1 L1152.4 294 L1151.4 294.9 L1150.2 295.6 L1149 296.3 L1147.6 296.8 L1146.2 297.2 L1144.6 297.5 L1143 297.7 L1141.3 297.7 L1139.6 297.7 L1137.8 297.5 L1136.1 297.2 L1134.3 296.7 L1132.5 296.2 L1130.8 295.5 L1129.1 294.8 L1127.4 293.9 L1125.8 293 L1124.2 291.9 L1122.8 290.8 L1121.4 289.6 L1120.2 288.4 L1119.1 287.1 L1118 285.8 L1117.2 284.4 L1116.4 283 L1115.8 281.6 L1115.4 280.2 L1115.1 278.8Z" fill="#1b1c1d"/>
<ellipse cx="1135.3" cy="281.7" rx="21.5" ry="14.5" transform="rotate(25.5 1135.3 281.7)" fill="#232422" />
<ellipse cx="1135.8" cy="281.3" rx="17.6" ry="10.4" transform="rotate(25.6 1135.8 281.3)" fill="#fcfcf8" />
<path d="M1325.7 328.1 L1325.7 326.9 L1325.8 325.7 L1326.1 324.5 L1326.5 323.3 L1327 322.1 L1327.5 320.9 L1328.2 319.8 L1329 318.7 L1329.8 317.6 L1330.8 316.6 L1331.8 315.6 L1332.8 314.8 L1334 313.9 L1335.1 313.2 L1336.3 312.5 L1337.6 311.9 L1338.9 311.5 L1340.1 311.1 L1341.4 310.8 L1342.7 310.6 L1343.9 310.6 L1345.2 310.6 L1346.3 310.8 L1347.5 311 L1348.6 311.3 L1349.6 311.8 L1350.5 312.3 L1351.4 312.9 L1352.2 313.6 L1357.6 319.3 L1358.3 320.1 L1358.9 321 L1359.4 322 L1359.8 323 L1360.2 324.1 L1360.3 325.3 L1360.4 326.4 L1360.4 327.6 L1360.2 328.9 L1359.9 330.1 L1359.5 331.3 L1359.1 332.5 L1358.5 333.8 L1357.8 334.9 L1357 336.1 L1356.1 337.2 L1355.1 338.2 L1354.1 339.2 L1353 340.1 L1351.8 341 L1350.6 341.8 L1349.4 342.4 L1348.1 343 L1346.8 343.5 L1345.5 343.9 L1344.2 344.2 L1342.8 344.4 L1341.5 344.4 L1340.3 344.4 L1339.1 344.3 L1337.9 344 L1336.8 343.7 L1335.7 343.2 L1334.7 342.7 L1333.8 342 L1333 341.3 L1332.3 340.5 L1327.7 334.1 L1327.1 333.3 L1326.6 332.3 L1326.2 331.3 L1325.9 330.3 L1325.7 329.2Z" fill="#343532"/>
<path d="M1329 332.7 L1329 331.5 L1329.2 330.3 L1329.5 329.1 L1329.8 327.8 L1330.3 326.6 L1330.9 325.4 L1331.6 324.2 L1332.4 323.1 L1333.3 322 L1334.3 320.9 L1335.3 319.9 L1336.4 319 L1337.6 318.2 L1338.8 317.4 L1340 316.7 L1341.3 316.1 L1342.6 315.6 L1343.9 315.2 L1345.2 315 L1346.6 314.8 L1347.8 314.7 L1349.1 314.8 L1350.3 314.9 L1351.5 315.1 L1352.6 315.5 L1353.7 315.9 L1354.7 316.5 L1355.6 317.1 L1356.4 317.9 L1357.1 318.7 L1358.3 320.1 L1358.9 321 L1359.4 322 L1359.8 323 L1360.2 324.1 L1360.3 325.3 L1360.4 326.4 L1360.4 327.6 L1360.2 328.9 L1359.9 330.1 L1359.5 331.3 L1359.1 332.5 L1358.5 333.8 L1357.8 334.9 L1357 336.1 L1356.1 337.2 L1355.1 338.2 L1354.1 339.2 L1353 340.1 L1351.8 341 L1350.6 341.8 L1349.4 342.4 L1348.1 343 L1346.8 343.5 L1345.5 343.9 L1344.2 344.2 L1342.8 344.4 L1341.5 344.4 L1340.3 344.4 L1339.1 344.3 L1337.9 344 L1336.8 343.7 L1335.7 343.2 L1334.7 342.7 L1333.8 342 L1333 341.3 L1332.3 340.5 L1331.1 339 L1330.5 338.1 L1330 337.1 L1329.5 336.1 L1329.2 335 L1329.1 333.9Z" fill="#1b1c1d"/>
<ellipse cx="1345.3" cy="330.3" rx="16.5" ry="12.5" transform="rotate(-38 1345.3 330.3)" fill="#232422" />
<ellipse cx="1347" cy="333" rx="11.5" ry="7" transform="rotate(-38 1347 333)" fill="#fcfcf8" />
<path d="M1428.8 216.6 L1428.8 215.1 L1430.5 198.7 L1430.7 197.3 L1431 195.9 L1431.6 194.6 L1432.3 193.3 L1433.2 192 L1434.2 190.8 L1435.4 189.7 L1436.8 188.7 L1438.2 187.7 L1439.8 186.9 L1441.5 186.1 L1443.3 185.5 L1445.2 185 L1447.2 184.6 L1449.2 184.3 L1451.2 184.1 L1453.3 184.1 L1455.3 184.1 L1457.4 184.3 L1459.4 184.7 L1461.4 185.1 L1463.4 185.7 L1465.2 186.4 L1467 187.2 L1468.7 188 L1470.3 189 L1471.8 190.1 L1473.1 191.2 L1474.3 192.4 L1475.3 193.7 L1476.2 195 L1476.9 196.4 L1477.4 197.8 L1477.7 199.2 L1477.9 200.6 L1477.9 202.1 L1477.6 218.5 L1477.5 220 L1477.1 221.4 L1476.5 222.8 L1475.8 224.1 L1474.9 225.4 L1473.8 226.7 L1472.5 227.8 L1471.2 228.9 L1469.7 229.9 L1468 230.7 L1466.3 231.5 L1464.4 232.2 L1462.5 232.7 L1460.5 233.1 L1458.4 233.4 L1456.3 233.6 L1454.2 233.6 L1452 233.6 L1449.9 233.3 L1447.8 233 L1445.7 232.6 L1443.7 232 L1441.8 231.3 L1440 230.5 L1438.2 229.6 L1436.6 228.5 L1435.1 227.4 L1433.7 226.3 L1432.5 225 L1431.5 223.7 L1430.5 222.3 L1429.8 220.9 L1429.3 219.5 L1428.9 218Z" fill="#343532"/>
<path d="M1428.8 216.6 L1428.8 215.1 L1429 211.2 L1429.2 209.7 L1429.6 208.3 L1430.1 206.9 L1430.9 205.5 L1431.8 204.2 L1432.9 203 L1434.1 201.8 L1435.5 200.8 L1437 199.8 L1438.6 198.9 L1440.4 198.2 L1442.2 197.5 L1444.2 196.9 L1446.2 196.5 L1448.2 196.2 L1450.3 196.1 L1452.5 196 L1454.6 196.1 L1456.7 196.3 L1458.8 196.7 L1460.9 197.1 L1462.9 197.7 L1464.8 198.4 L1466.7 199.2 L1468.4 200.1 L1470 201.1 L1471.5 202.2 L1472.9 203.4 L1474.1 204.7 L1475.2 206 L1476.1 207.3 L1476.8 208.7 L1477.3 210.2 L1477.7 211.6 L1477.9 213.1 L1477.9 214.6 L1477.6 218.5 L1477.5 220 L1477.1 221.4 L1476.5 222.8 L1475.8 224.1 L1474.9 225.4 L1473.8 226.7 L1472.5 227.8 L1471.2 228.9 L1469.7 229.9 L1468 230.7 L1466.3 231.5 L1464.4 232.2 L1462.5 232.7 L1460.5 233.1 L1458.4 233.4 L1456.3 233.6 L1454.2 233.6 L1452 233.6 L1449.9 233.3 L1447.8 233 L1445.7 232.6 L1443.7 232 L1441.8 231.3 L1440 230.5 L1438.2 229.6 L1436.6 228.5 L1435.1 227.4 L1433.7 226.3 L1432.5 225 L1431.5 223.7 L1430.5 222.3 L1429.8 220.9 L1429.3 219.5 L1428.9 218Z" fill="#1b1c1d"/>
<ellipse cx="1453.2" cy="216.8" rx="24.5" ry="16.8" transform="rotate(4 1453.2 216.8)" fill="#232422" />
<ellipse cx="1452.5" cy="216.7" rx="20.8" ry="12.7" transform="rotate(4 1452.5 216.7)" fill="#fcfcf8" />
<path d="M1607.1 226.7 L1607.2 225 L1607.5 223.3 L1607.9 221.6 L1608.5 219.9 L1609.2 218.3 L1610.1 216.8 L1611.1 215.3 L1612.2 213.9 L1613.4 212.6 L1614.7 211.4 L1616.1 210.3 L1617.6 209.4 L1619.1 208.5 L1620.8 207.8 L1622.4 207.3 L1624.1 206.8 L1625.8 206.6 L1627.6 206.4 L1629.3 206.4 L1631 206.6 L1632.7 206.9 L1634.3 207.4 L1635.9 208 L1637.4 208.7 L1638.8 209.6 L1649.6 217.1 L1651 218.1 L1652.2 219.2 L1653.4 220.5 L1654.4 221.9 L1655.3 223.3 L1656.1 224.8 L1656.7 226.4 L1657.2 228.1 L1657.5 229.8 L1657.7 231.6 L1657.7 233.3 L1657.6 235.1 L1657.3 236.8 L1656.8 238.6 L1656.2 240.2 L1655.5 241.9 L1654.6 243.5 L1653.6 245 L1652.5 246.4 L1651.2 247.8 L1649.9 249 L1648.5 250.1 L1646.9 251.1 L1645.3 252 L1643.6 252.7 L1641.9 253.3 L1640.2 253.8 L1638.4 254 L1636.6 254.2 L1634.8 254.2 L1633.1 254 L1631.3 253.7 L1629.7 253.2 L1628 252.6 L1626.5 251.8 L1625 250.9 L1623.7 249.9 L1613.7 241.4 L1612.4 240.3 L1611.3 239.1 L1610.3 237.8 L1609.4 236.4 L1608.7 234.9 L1608.1 233.3 L1607.6 231.7 L1607.3 230.1 L1607.1 228.4Z" fill="#343532"/>
<path d="M1614.4 232.8 L1614.5 231 L1614.8 229.2 L1615.3 227.5 L1615.8 225.8 L1616.6 224.2 L1617.5 222.6 L1618.5 221.1 L1619.6 219.6 L1620.8 218.3 L1622.2 217.1 L1623.7 215.9 L1625.2 214.9 L1626.8 214.1 L1628.5 213.3 L1630.2 212.8 L1631.9 212.3 L1633.7 212 L1635.5 211.9 L1637.3 211.9 L1639 212.1 L1640.8 212.4 L1642.4 212.9 L1644.1 213.5 L1645.6 214.3 L1647.1 215.2 L1648.5 216.2 L1651 218.1 L1652.2 219.2 L1653.4 220.5 L1654.4 221.9 L1655.3 223.3 L1656.1 224.8 L1656.7 226.4 L1657.2 228.1 L1657.5 229.8 L1657.7 231.6 L1657.7 233.3 L1657.6 235.1 L1657.3 236.8 L1656.8 238.6 L1656.2 240.2 L1655.5 241.9 L1654.6 243.5 L1653.6 245 L1652.5 246.4 L1651.2 247.8 L1649.9 249 L1648.5 250.1 L1646.9 251.1 L1645.3 252 L1643.6 252.7 L1641.9 253.3 L1640.2 253.8 L1638.4 254 L1636.6 254.2 L1634.8 254.2 L1633.1 254 L1631.3 253.7 L1629.7 253.2 L1628 252.6 L1626.5 251.8 L1625 250.9 L1623.7 249.9 L1621.2 248 L1619.9 246.8 L1618.7 245.6 L1617.7 244.2 L1616.8 242.8 L1616 241.2 L1615.4 239.6 L1614.9 238 L1614.6 236.3 L1614.4 234.5Z" fill="#1b1c1d"/>
<ellipse cx="1637.3" cy="234" rx="21" ry="19.6" transform="rotate(-40 1637.3 234)" fill="#232422" />
<ellipse cx="1636.8" cy="233.5" rx="17.5" ry="15.8" transform="rotate(-40 1636.8 233.5)" fill="#fcfcf8" />
<path d="M1448.9 197.3 L1448.7 203" stroke="#f4f4ee" stroke-width="2.2" stroke-linecap="round"/>
<path d="M1134.6 264.6 L1132.2 268.4" stroke="#f4f4ee" stroke-width="2" stroke-linecap="round"/>
<path d="M1576.9 317.6 L1576.9 316.1 L1577 314.6 L1577.1 313.1 L1577.3 311.6 L1577.5 310.1 L1577.8 308.7 L1578 307.3 L1578.4 305.9 L1578.7 304.7 L1579.1 303.5 L1579.5 302.4 L1579.9 301.4 L1580.3 300.5 L1580.8 299.7 L1581.3 299 L1581.8 298.5 L1582.3 298 L1582.8 297.7 L1583.2 297.6 L1583.7 297.5 L1595.2 298.5 L1595.7 298.6 L1596.2 298.9 L1596.6 299.2 L1597 299.7 L1597.4 300.3 L1597.8 301.1 L1598.2 301.9 L1598.5 302.9 L1598.7 303.9 L1599 305.1 L1599.2 306.3 L1599.4 307.6 L1599.5 309 L1599.6 310.4 L1599.6 311.9 L1599.6 313.4 L1599.6 314.9 L1599.5 316.4 L1599.4 317.9 L1599.2 319.4 L1599 320.9 L1598.7 322.3 L1598.5 323.7 L1598.1 325.1 L1597.8 326.3 L1597.4 327.5 L1597 328.6 L1596.6 329.6 L1596.2 330.5 L1595.7 331.3 L1595.2 332 L1594.7 332.5 L1594.2 333 L1593.8 333.3 L1593.3 333.4 L1592.8 333.5 L1581.3 332.5 L1580.8 332.4 L1580.3 332.1 L1579.9 331.8 L1579.5 331.3 L1579.1 330.7 L1578.7 329.9 L1578.3 329.1 L1578 328.1 L1577.8 327.1 L1577.5 325.9 L1577.3 324.7 L1577.1 323.4 L1577 322 L1576.9 320.6 L1576.9 319.1Z" fill="#343532"/>
<path d="M1584.9 318.4 L1584.9 316.8 L1585 315.3 L1585.1 313.8 L1585.3 312.3 L1585.5 310.8 L1585.8 309.4 L1586 308 L1586.4 306.6 L1586.7 305.4 L1587.1 304.2 L1587.5 303.1 L1587.9 302.1 L1588.3 301.2 L1588.8 300.4 L1589.3 299.7 L1589.8 299.2 L1590.3 298.7 L1590.8 298.4 L1591.2 298.3 L1591.7 298.2 L1595.2 298.5 L1595.7 298.6 L1596.2 298.9 L1596.6 299.2 L1597 299.7 L1597.4 300.3 L1597.8 301.1 L1598.2 301.9 L1598.5 302.9 L1598.7 303.9 L1599 305.1 L1599.2 306.3 L1599.4 307.6 L1599.5 309 L1599.6 310.4 L1599.6 311.9 L1599.6 313.4 L1599.6 314.9 L1599.5 316.4 L1599.4 317.9 L1599.2 319.4 L1599 320.9 L1598.7 322.3 L1598.5 323.7 L1598.1 325.1 L1597.8 326.3 L1597.4 327.5 L1597 328.6 L1596.6 329.6 L1596.2 330.5 L1595.7 331.3 L1595.2 332 L1594.7 332.5 L1594.2 333 L1593.8 333.3 L1593.3 333.4 L1592.8 333.5 L1589.3 333.2 L1588.8 333.1 L1588.3 332.8 L1587.9 332.5 L1587.5 332 L1587.1 331.4 L1586.7 330.6 L1586.3 329.8 L1586 328.8 L1585.8 327.8 L1585.5 326.6 L1585.3 325.4 L1585.1 324.1 L1585 322.7 L1584.9 321.3 L1584.9 319.9Z" fill="#181918"/>
<ellipse cx="1594" cy="316" rx="5.5" ry="17.5" transform="rotate(4 1594 316)" fill="#262725" />
<ellipse cx="1595.2" cy="316.5" rx="3" ry="14.5" transform="rotate(4 1595.2 316.5)" fill="#e9e9e4" />
<path d="M1173 281 L1206 289 L1201 308 Q1184 306 1168 299Z" fill="#333431"/>
<path d="M1169.5 293.5 Q1186 300.5 1202.5 302.5 L1202 304.5 Q1185 302.5 1169 295.5Z" fill="#232422"/>
<path d="M1424.5 295 L1425.5 309 Q1440 315 1455.5 308 L1455.5 294Z" fill="#30312f"/>
<ellipse cx="1440" cy="294.8" rx="15.6" ry="5.2" transform="rotate(-3 1440 294.8)" fill="#3a3b37" />
<circle cx="1688.3" cy="93.2" r="5" fill="#050505"/>
<circle cx="1688.3" cy="204.1" r="5" fill="#050505"/>
<circle cx="1116.7" cy="399.3" r="5" fill="#050505"/>
<circle cx="1656.7" cy="399.3" r="5" fill="#050505"/>
<ellipse cx="1381" cy="933" rx="250" ry="125" fill="url(#gThr)"/>
<path d="M1131 935.5 A250 125 0 0 1 1631 935.5" fill="none" stroke="#333" stroke-width="1.4"/>
<path d="M1131 939.5 A250 125 0 0 1 1631 939.5" fill="none" stroke="#000" stroke-width="2.4"/>
<path d="M1131 943.5 A250 125 0 0 1 1631 943.5" fill="none" stroke="#3a3a3a" stroke-width="1.6"/>
<path d="M1131 947.5 A250 125 0 0 1 1631 947.5" fill="none" stroke="#000" stroke-width="2.4"/>
<path d="M1131 951.5 A250 125 0 0 1 1631 951.5" fill="none" stroke="#383838" stroke-width="1.5"/>
<path d="M1131 954.5 A250 125 0 0 1 1631 954.5" fill="none" stroke="#000" stroke-width="1.6"/>
<path d="M1120 953 L1121.5 940 L1149 908.3 L1154.7 902.1 L1161 896 L1168 890.1 L1175.5 884.4 L1183.6 878.9 L1192.2 873.7 L1201.4 868.7 L1211 863.9 L1221.2 859.4 L1231.7 855.2 L1242.7 851.3 L1254 847.7 L1265.7 844.4 L1277.7 841.4 L1290 838.8 L1302.5 836.5 L1315.3 834.5 L1328.2 832.9 L1341.3 831.6 L1354.5 830.7 L1367.7 830.2 L1381 830 L1394.3 830.2 L1407.5 830.7 L1420.7 831.6 L1433.8 832.9 L1446.7 834.5 L1459.5 836.5 L1472 838.8 L1484.3 841.4 L1496.3 844.4 L1508 847.7 L1519.3 851.3 L1530.3 855.2 L1540.8 859.4 L1551 863.9 L1560.6 868.7 L1569.8 873.7 L1578.4 878.9 L1586.5 884.4 L1594 890.1 L1601 896 L1607.3 902.1 L1613 908.3 L1638.5 940 L1640 953 L1640 1033.5 L1639.6 1040 L1638.6 1046.4 L1636.8 1052.8 L1634.3 1059.2 L1631.1 1065.5 L1627.3 1071.7 L1622.7 1077.8 L1617.5 1083.7 L1611.7 1089.6 L1605.2 1095.2 L1598 1100.8 L1590.3 1106.1 L1582.1 1111.2 L1573.2 1116.1 L1563.8 1120.8 L1554 1125.3 L1543.6 1129.5 L1532.8 1133.4 L1521.6 1137.1 L1510 1140.5 L1498 1143.5 L1485.8 1146.3 L1473.2 1148.8 L1460.3 1151 L1447.3 1152.8 L1434.1 1154.3 L1420.7 1155.5 L1407.2 1156.3 L1393.6 1156.8 L1380 1157 L1366.4 1156.8 L1352.8 1156.3 L1339.3 1155.5 L1325.9 1154.3 L1312.7 1152.8 L1299.7 1151 L1286.8 1148.8 L1274.2 1146.3 L1262 1143.5 L1250 1140.5 L1238.4 1137.1 L1227.2 1133.4 L1216.4 1129.5 L1206 1125.3 L1196.2 1120.8 L1186.8 1116.1 L1177.9 1111.2 L1169.7 1106.1 L1162 1100.8 L1154.8 1095.2 L1148.3 1089.6 L1142.5 1083.7 L1137.3 1077.8 L1132.7 1071.7 L1128.9 1065.5 L1125.7 1059.2 L1123.2 1052.8 L1121.4 1046.4 L1120.4 1040 L1120 1033.5Z" fill="url(#gBand)"/>
<ellipse cx="1380" cy="1033.5" rx="260" ry="123.5" fill="url(#gRimN)"/>
<ellipse cx="1380" cy="1033.5" rx="259.3" ry="122.8" fill="none" stroke="#444" stroke-width="1.2" opacity=".6"/>
<ellipse cx="1379.5" cy="1015" rx="221" ry="102" fill="url(#gDiff)"/>
<g>
<text x="523" y="950.7" font-family="'Liberation Sans', sans-serif" font-size="52" font-weight="700" textLength="104" lengthAdjust="spacingAndGlyphs" fill="#0a0a0a">арт.</text>
<text x="640" y="950.7" font-family="'Liberation Sans', sans-serif" font-size="54.4" font-weight="700" textLength="181" lengthAdjust="spacingAndGlyphs" fill="#0a0a0a">C9060</text>
<text x="524" y="995.6" font-family="'Liberation Sans', sans-serif" font-size="29.5" font-weight="400" textLength="285" lengthAdjust="spacingAndGlyphs" fill="#141414">SBK черный песок</text>
<text x="1243" y="1251" font-family="'Liberation Sans', sans-serif" font-size="52" font-weight="700" textLength="104" lengthAdjust="spacingAndGlyphs" fill="#0a0a0a">арт.</text>
<text x="1359" y="1251" font-family="'Liberation Sans', sans-serif" font-size="54.4" font-weight="700" textLength="148" lengthAdjust="spacingAndGlyphs" fill="#0a0a0a">N8113</text>
<text x="1245.5" y="1296.8" font-family="'Liberation Sans', sans-serif" font-size="29.5" font-weight="400" textLength="430" lengthAdjust="spacingAndGlyphs" fill="#141414">PBK черный полированный</text>
<text x="1666.5" y="155.1" font-family="'Liberation Sans', sans-serif" font-size="24" font-weight="700" textLength="49" lengthAdjust="spacingAndGlyphs" fill="#0a0a0a">200</text>
<text x="1380" y="407.7" font-family="'Liberation Sans', sans-serif" font-size="24" font-weight="700" textLength="54" lengthAdjust="spacingAndGlyphs" fill="#0a0a0a">1100</text>
</g></svg></body></html>
